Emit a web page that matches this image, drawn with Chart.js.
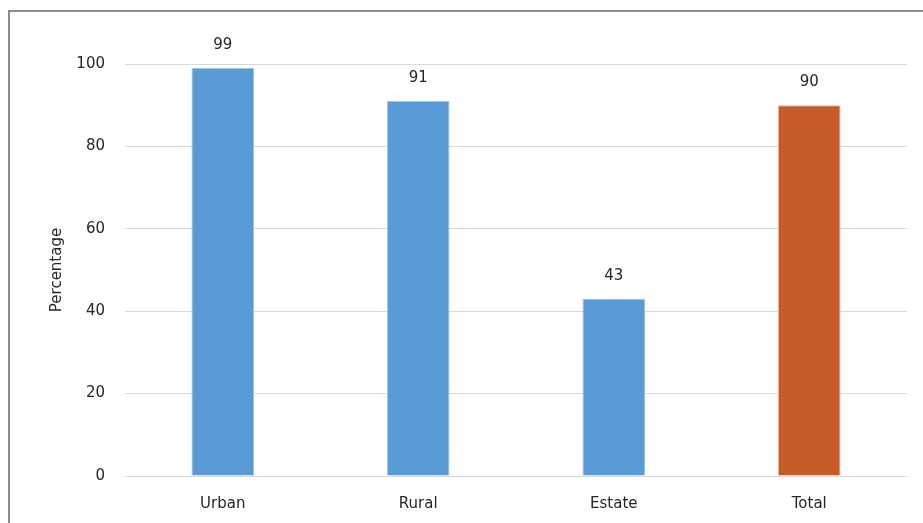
<!DOCTYPE html>
<html>
<head>
<meta charset="utf-8">
<script src="https://cdn.jsdelivr.net/npm/chart.js@4/dist/chart.umd.min.js"></script>
<style>
  html, body { margin: 0; padding: 0; background: #fff; overflow: hidden; }
  .frame {
    position: absolute; left: 8px; top: 10px;
    width: 913px; height: 511px;
    border-left: 2px solid #8c8c8c; border-top: 2px solid #8c8c8c;
  }
  canvas { display: block; }
</style>
</head>
<body>
<div class="frame">
  <canvas id="AccessChart" width="913" height="511"></canvas>
</div>
<script>
const categories = ['Urban', 'Rural', 'Estate', 'Total'];
const percentages = [99, 91, 43, 90];
const barColours = ['#5b9bd5', '#5b9bd5', '#5b9bd5', '#c55b28'];
const edgeColours = ['#9dc3e6', '#9dc3e6', '#9dc3e6', '#f0b08c'];
const yTicks = [0, 20, 40, 60, 80, 100];

const textColour = '#262626';
const font = { family: 'DejaVu Sans', size: 15 };

// value labels above each bar
const barLabels = {
    id: 'barLabels',
    afterDatasetsDraw(chart) {
        const ctx = chart.ctx;
        const meta = chart.getDatasetMeta(0);
        ctx.save();
        ctx.font = '15px "DejaVu Sans"';
        ctx.fillStyle = textColour;
        ctx.textAlign = 'center';
        ctx.textBaseline = 'middle';
        meta.data.forEach((bar, i) => {
            ctx.fillText(String(percentages[i]), bar.x, bar.y - 23);
        });
        ctx.restore();
    }
};

const ctx = document.getElementById('AccessChart').getContext('2d');

const AccessChart = new Chart(ctx, {
    type: 'bar',
    data: {
        labels: categories,
        datasets: [{
            data: percentages,
            backgroundColor: barColours,
            borderColor: edgeColours,
            borderWidth: 1,
            categoryPercentage: 1,
            barPercentage: 0.32
        }]
    },
    options: {
        responsive: false,
        animation: false,
        layout: {
            padding: { left: 0, top: 52, right: 16, bottom: 0 }
        },
        plugins: {
            legend: { display: false },
            tooltip: { enabled: false }
        },
        scales: {
            y: {
                min: 0,
                max: 100,
                afterFit: (scale) => { scale.width = 115; },
                afterBuildTicks: (scale) => {
                    scale.ticks = yTicks.map(v => ({ value: v }));
                },
                grid: {
                    color: '#d9d9d9',
                    drawTicks: false
                },
                border: { display: false },
                ticks: {
                    padding: 20,
                    color: textColour,
                    font: font
                },
                title: {
                    display: true,
                    text: 'Percentage',
                    color: textColour,
                    font: font,
                    padding: { top: 38, bottom: 0 }
                }
            },
            x: {
                afterFit: (scale) => { scale.height = 47; },
                grid: { display: false },
                border: { display: false },
                ticks: {
                    padding: 11,
                    color: textColour,
                    font: font
                }
            }
        }
    },
    plugins: [barLabels]
});
</script>
</body>
</html>
